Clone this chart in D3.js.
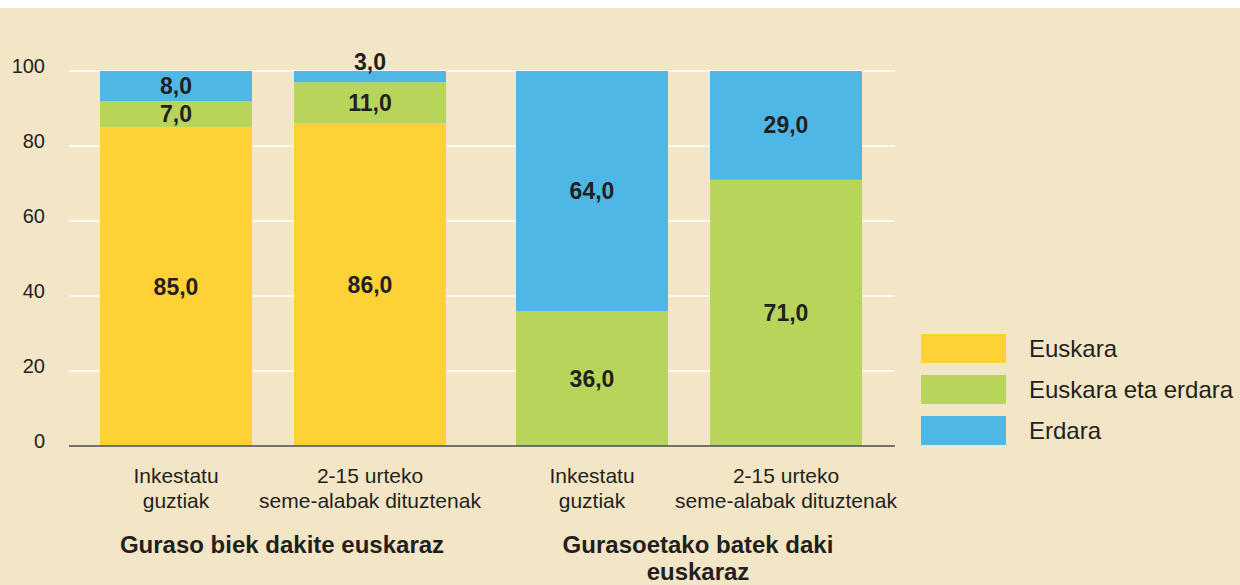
<!DOCTYPE html>
<html>
<head>
<meta charset="utf-8">
<script src="https://cdn.jsdelivr.net/npm/d3@7"></script>
<style>
  body { margin: 0; background: #fff; }
  svg { display: block; font-family: "Liberation Sans", Arial, sans-serif; }
</style>
</head>
<body>
<svg width="1240" height="585"></svg>
<script>
// data
var groups = ["g1", "g2"];
var groupLabels = [["Guraso biek dakite euskaraz"], ["Gurasoetako batek daki", "euskaraz"]];
var catKeys = ["c1", "c2"];
var catLabels = [["Inkestatu", "guztiak"], ["2-15 urteko", "seme-alabak dituztenak"]];
var seriesNames = ["Euskara", "Euskara eta erdara", "Erdara"];
var euskara = [85, 86, 0, 0];
var biak = [7, 11, 36, 71];
var erdara = [8, 3, 64, 29];
var yTicks = [0, 20, 40, 60, 80, 100];

var colors = ["#fed136", "#b6d55a", "#4eb7e6"];
var ink = "#231f20";

var svg = d3.select("svg");

// background
svg.append("rect").attr("x", 0).attr("y", 8).attr("width", 1240).attr("height", 577).attr("fill", "#f2e6c6");

var y = d3.scaleLinear().domain([0, 100]).range([446, 71]);

var x0 = d3.scaleBand().domain(groups).range([65, 897]);
var x1 = d3.scaleBand().domain(catKeys).range([0, x0.bandwidth()])
    .paddingInner(42 / 194).paddingOuter(0.1804);

// rows for stacking
var rows = [];
for (var i = 0; i < euskara.length; i++) {
    rows.push({
        group: groups[Math.floor(i / 2)],
        cat: catKeys[i % 2],
        idx: i,
        "Euskara": euskara[i],
        "Euskara eta erdara": biak[i],
        "Erdara": erdara[i]
    });
}
function barX(d) { return x0(d.group) + x1(d.cat); }

// gridlines
svg.append("g").selectAll("line")
    .data(yTicks.filter(t => t > 0))
    .enter().append("line")
    .attr("x1", 69).attr("x2", 895)
    .attr("y1", d => y(d)).attr("y2", d => y(d))
    .attr("stroke", "#ffffff").attr("stroke-width", 1.5);

// tick labels
svg.append("g").selectAll("text")
    .data(yTicks)
    .enter().append("text")
    .attr("x", 45).attr("y", d => y(d) + 2)
    .attr("text-anchor", "end")
    .attr("font-size", 20).attr("fill", ink)
    .text(d => d);

var stack = d3.stack().keys(seriesNames);
var stacked = stack(rows);

var layers = svg.append("g").selectAll("g")
    .data(stacked)
    .enter().append("g")
    .attr("fill", (d, i) => colors[i]);

layers.selectAll("rect")
    .data(d => d)
    .enter().append("rect")
    .attr("x", d => barX(d.data))
    .attr("width", x1.bandwidth())
    .attr("y", d => y(d[1]))
    .attr("height", d => y(d[0]) - y(d[1]));

// baseline
svg.append("line")
    .attr("x1", 69).attr("x2", 895)
    .attr("y1", y(0)).attr("y2", y(0))
    .attr("stroke", "#4d4d4d").attr("stroke-width", 1.5);

// value labels
var labels = [];
stacked.forEach(function (layer) {
    layer.forEach(function (d) {
        var v = d[1] - d[0];
        if (v > 0) labels.push({ v: v, lo: d[0], hi: d[1], row: d.data });
    });
});
svg.append("g").selectAll("text")
    .data(labels)
    .enter().append("text")
    .attr("x", d => barX(d.row) + x1.bandwidth() / 2)
    .attr("y", function (d) {
        var h = y(d.lo) - y(d.hi);
        if (h < 20) return y(d.hi) - 1;
        return (y(d.lo) + y(d.hi)) / 2 + 8;
    })
    .attr("text-anchor", "middle")
    .attr("font-size", 23).attr("font-weight", "bold").attr("fill", ink)
    .text(d => d.v.toFixed(1).replace(".", ","));

// category labels
var catG = svg.append("g").selectAll("text")
    .data(rows)
    .enter().append("text")
    .attr("text-anchor", "middle")
    .attr("font-size", 21).attr("fill", ink);
catG.selectAll("tspan")
    .data(d => catLabels[d.idx % 2].map(t => ({ t: t, row: d })))
    .enter().append("tspan")
    .attr("x", d => barX(d.row) + x1.bandwidth() / 2)
    .attr("y", (d, i) => 483 + i * 25)
    .text(d => d.t);

// group labels
var grpG = svg.append("g").selectAll("text")
    .data(groups)
    .enter().append("text")
    .attr("text-anchor", "middle")
    .attr("font-size", 24).attr("font-weight", "bold").attr("fill", ink);
grpG.selectAll("tspan")
    .data((d, i) => groupLabels[i].map(t => ({ t: t, g: d })))
    .enter().append("tspan")
    .attr("x", d => x0(d.g) + x0.bandwidth() / 2 + 9)
    .attr("y", (d, i) => 553 + i * 27)
    .text(d => d.t);

// legend
var legend = svg.append("g").selectAll("g")
    .data(seriesNames)
    .enter().append("g")
    .attr("transform", (d, i) => "translate(921," + (334 + i * 41) + ")");
legend.append("rect")
    .attr("width", 85).attr("height", 29)
    .attr("fill", (d, i) => colors[i]);
legend.append("text")
    .attr("x", 108).attr("y", 23)
    .attr("font-size", 24).attr("fill", ink)
    .text(d => d);
</script>
</body>
</html>
